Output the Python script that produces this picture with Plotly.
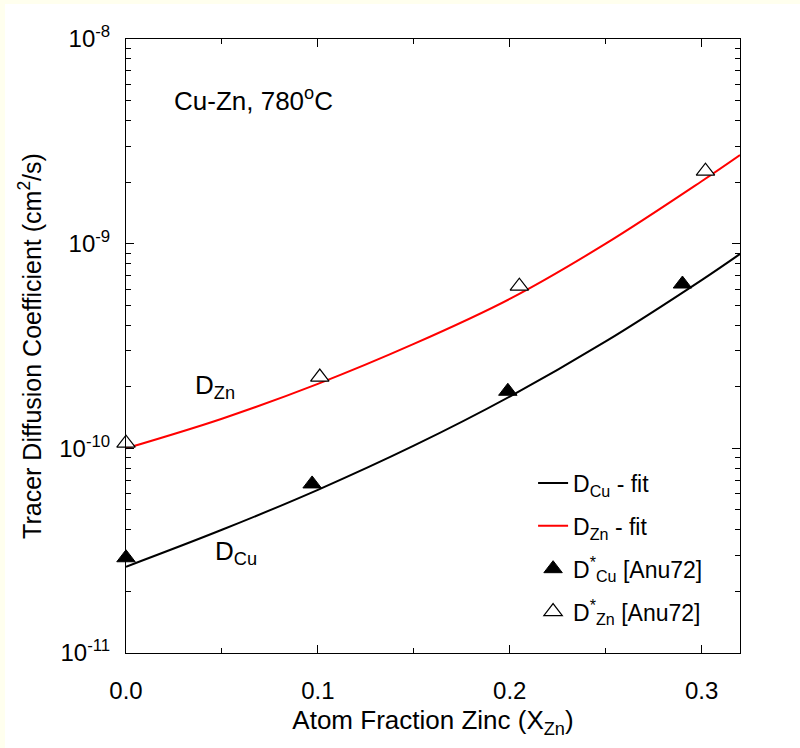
import plotly.graph_objects as go

# ---- data ----
fit_x = [0.0, 0.05, 0.10, 0.15, 0.20, 0.25, 0.30, 0.32]
fit_cu = [2.64e-11, 4.0e-11, 6.27e-11, 1.03e-10, 1.79e-10, 3.33e-10, 6.64e-10, 8.91e-10]
fit_zn = [1.0e-10, 1.396e-10, 2.065e-10, 3.236e-10, 5.37e-10, 1.0e-9, 2.018e-9, 2.71e-9]

cu_x = [0.0, 0.097, 0.199, 0.290]
cu_y = [2.92e-11, 6.7e-11, 1.9e-10, 6.35e-10]
zn_x = [0.0, 0.101, 0.205, 0.302]
zn_y = [1.06e-10, 2.23e-10, 6.2e-10, 2.26e-9]

y_tickvals = [1e-11, 1e-10, 1e-9, 1e-8]
y_ticktext = ["10<sup>-11</sup>", "10<sup>-10</sup>", "10<sup>-9</sup>", "10<sup>-8</sup>"]
y_minor = [k * 10.0 ** e for e in range(-11, -8) for k in range(2, 10)]

FONT = "Liberation Sans, Arial, sans-serif"
CREAM = "#FFFFEE"

fig = go.Figure()
fig.add_trace(go.Scatter(x=fit_x, y=fit_cu, mode="lines", line=dict(color="black", width=2, shape="spline"),
                         name="D<sub>Cu</sub> - fit", legendgroup="a"))
fig.add_trace(go.Scatter(x=fit_x, y=fit_zn, mode="lines", line=dict(color="#FF0000", width=2, shape="spline"),
                         name="D<sub>Zn</sub> - fit", legendgroup="b"))
fig.add_trace(go.Scatter(x=cu_x, y=cu_y, mode="markers", cliponaxis=False,
                         marker=dict(symbol="triangle-up", size=16, color="black", line=dict(color="black", width=1)),
                         name="D<sup>*</sup><sub>Cu</sub> [Anu72]", legendgroup="c"))
fig.add_trace(go.Scatter(x=zn_x, y=zn_y, mode="markers", cliponaxis=False,
                         marker=dict(symbol="triangle-up", size=16, color="white", line=dict(color="black", width=1.2)),
                         name="D<sup>*</sup><sub>Zn</sub> [Anu72]", legendgroup="d"))

W, H = 800, 748
L, R, T, B = 126, 60, 39, 95
pw, ph = W - L - R, H - T - B

def px(x):
    return (x - L) / pw

def py(y):
    return (H - B - y) / ph

shapes = [
    dict(type="rect", xref="paper", yref="paper", x0=px(0), x1=px(5), y0=py(H), y1=py(0),
         fillcolor=CREAM, line=dict(width=0), layer="below"),
    dict(type="rect", xref="paper", yref="paper", x0=px(0), x1=px(W), y0=py(4), y1=py(0),
         fillcolor=CREAM, line=dict(width=0), layer="below"),
]

fig.update_layout(
    width=W, height=H,
    margin=dict(l=L, r=R, t=T, b=B),
    paper_bgcolor="white", plot_bgcolor="white",
    font=dict(family=FONT, size=24, color="black"),
    shapes=shapes,
    showlegend=True,
    legend=dict(x=0.663, y=0.312, xanchor="left", yanchor="top", bgcolor="rgba(0,0,0,0)",
                font=dict(size=23), tracegroupgap=10),
    annotations=[
        dict(x=0.024, y=-8.298, xref="x", yref="y", text="Cu-Zn, 780<sup>o</sup>C", showarrow=False,
             xanchor="left", yanchor="middle", font=dict(size=26)),
        dict(x=0.035, y=-9.698, xref="x", yref="y", text="D<sub>Zn</sub>", showarrow=False,
             xanchor="left", yanchor="middle", font=dict(size=26)),
        dict(x=0.0453, y=-10.511, xref="x", yref="y", text="D<sub>Cu</sub>", showarrow=False,
             xanchor="left", yanchor="middle", font=dict(size=26)),
    ],
)

fig.update_xaxes(
    range=[0, 0.32], tick0=0, dtick=0.1, tickformat=".1f",
    showgrid=False, zeroline=False,
    showline=True, linecolor="black", linewidth=1, mirror="ticks",
    ticks="inside", ticklen=8, tickcolor="black", tickwidth=1,
    ticklabelstandoff=16, tickfont=dict(size=24),
    minor=dict(ticks="inside", dtick=0.05, tick0=0, ticklen=5, tickcolor="black", showgrid=False),
    title=dict(text="Atom Fraction Zinc (X<sub>Zn</sub>)", font=dict(size=26), standoff=8),
)
fig.update_yaxes(
    type="log", range=[-11, -8],
    tickmode="array", tickvals=y_tickvals, ticktext=y_ticktext,
    showgrid=False, zeroline=False,
    showline=True, linecolor="black", linewidth=1, mirror="ticks",
    ticks="inside", ticklen=8, tickcolor="black", tickwidth=1,
    ticklabelstandoff=10, tickfont=dict(size=24),
    minor=dict(ticks="inside", tickmode="array", tickvals=y_minor, ticklen=5, tickcolor="black", showgrid=False),
    title=dict(text="Tracer Diffusion Coefficient (cm<sup>2</sup>/s)", font=dict(size=25), standoff=10),
)

fig.write_html("out.html")
